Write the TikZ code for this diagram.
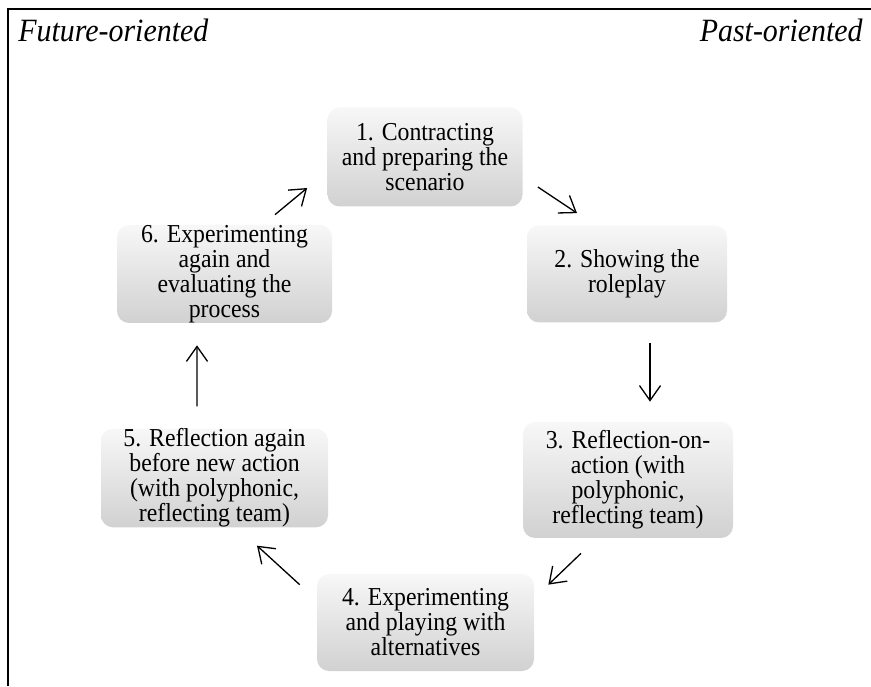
\documentclass[tikz,border=0pt]{standalone}
\usepackage{fontspec}
\setmainfont{Liberation Serif}[FakeStretch=0.92]
\usetikzlibrary{arrows.meta, calc}
\tikzset{stage/.style = {rounded corners=0.24cm, top color=black!3, bottom color=black!18, align=center, inner sep=0pt, font=\fontsize{14.7}{14.2}\selectfont}}
\tikzset{cyc/.style = {-{Straight Barb[length=8.5pt, width=12pt]}, line width=0.75pt}}
\tikzset{side/.style = {inner sep=0pt, font=\fontsize{18.5}{20}\selectfont\itshape}}

\begin{document}
\begin{tikzpicture}
\useasboundingbox (0,0) rectangle (17.42,13.72);
\draw [line width=1.1pt] (0.16,0) -- (0.16,13.54) -- (17.42,13.54);
\node [side, anchor=base west] (future) at (0.36,12.88) {Future-oriented};
\node [side, anchor=base east] (past) at (17.26,12.88) {Past-oriented};
\node [stage, minimum width=3.9cm, minimum height=1.98cm] (s1) at (8.5,10.58) {1. Contracting\\and preparing the\\scenario};
\node [stage, minimum width=4.0cm, minimum height=1.94cm] (s2) at (12.54,8.24) {2. Showing the\\roleplay};
\node [stage, minimum width=4.2cm, minimum height=2.32cm] (s3) at (12.56,4.12) {3. Reflection-on-\\action (with\\polyphonic,\\reflecting team)};
\node [stage, minimum width=4.34cm, minimum height=1.94cm] (s4) at (8.51,1.27) {4. Experimenting\\and playing with\\alternatives};
\node [stage, minimum width=4.54cm, minimum height=1.96cm] (s5) at (4.29,4.16) {5. Reflection again\\before new action\\(with polyphonic,\\reflecting team)};
\node [stage, minimum width=4.3cm, minimum height=1.96cm] (s6) at (4.49,8.24) {6. Experimenting\\again and\\evaluating the\\process};
\draw [cyc] ([shift={(0.3,-0.6)}]s1.east) -- ([shift={(-1.0,0.24)}]s2.north);
\draw [cyc] ([shift={(0.46,-0.4)}]s2.south) -- ([shift={(0.44,0.4)}]s3.north);
\draw [cyc] ([shift={(-0.94,-0.3)}]s3.south) -- ([shift={(0.28,-0.22)}]s4.north east);
\draw [cyc] ([shift={(-0.34,-0.22)}]s4.north west) -- ([shift={(0.85,-0.36)}]s5.south);
\draw [cyc] ([shift={(-0.35,0.44)}]s5.north) -- ([shift={(-0.55,-0.44)}]s6.south);
\draw [cyc] ([shift={(1.01,0.2)}]s6.north) -- ([shift={(-0.4,-0.62)}]s1.west);
\end{tikzpicture}
\end{document}
